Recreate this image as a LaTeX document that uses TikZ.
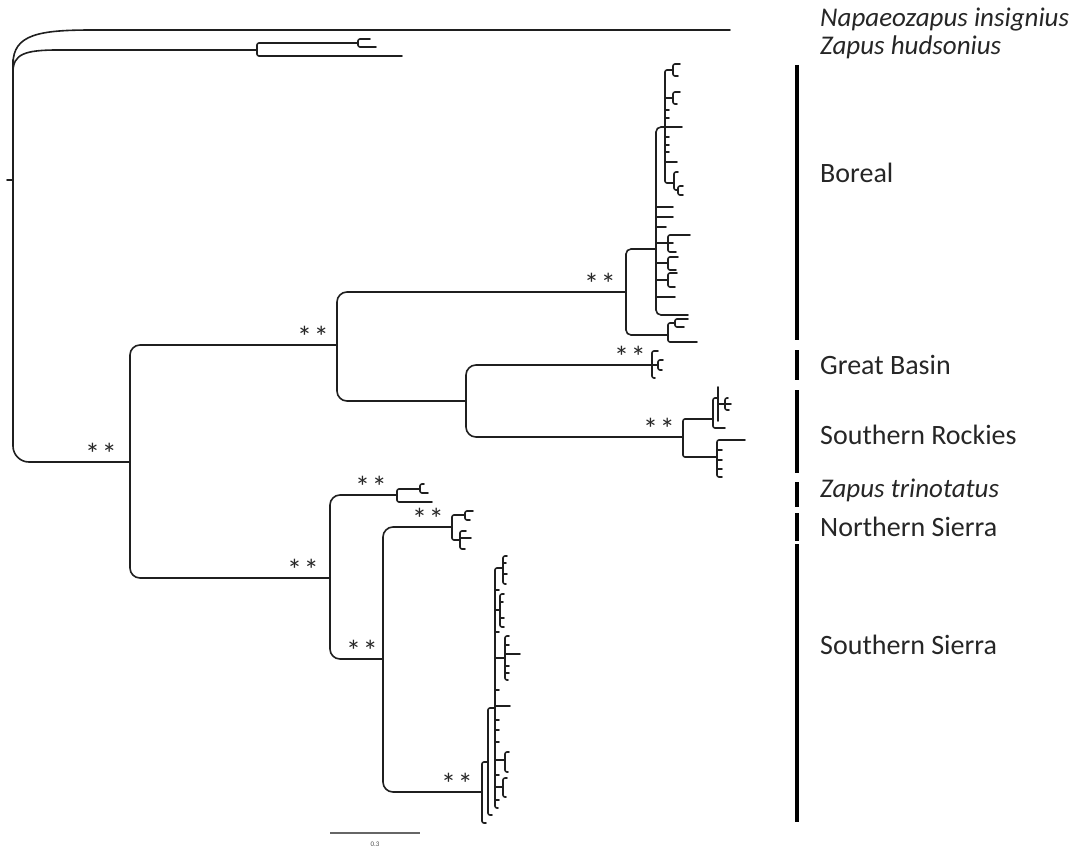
\documentclass[tikz,border=0pt]{standalone}
\usepackage{fontspec}
\setmainfont{Carlito}
\begin{document}
\begin{tikzpicture}[x=1pt,y=-1pt,
  tree/.style={line width=1.6pt, draw=black!88, rounded corners=2pt, line cap=round},
  bigtree/.style={tree, rounded corners=10pt},
  midtree/.style={tree, rounded corners=5pt},
  bar/.style={line width=4pt, draw=black},
  lab/.style={anchor=west, font=\fontsize{28}{30}\selectfont, text=black!85, inner sep=0pt},
  spec/.style={lab, font=\fontsize{27}{29}\selectfont\itshape},
  stars/.style={anchor=base, font=\fontsize{30}{32}\selectfont, inner sep=0pt, text=black!85}]
\useasboundingbox (0,0) rectangle (1091,850);

% ---------- named internal nodes ----------
\coordinate (R)    at (13,180);
\coordinate (NI)   at (730,30);
\coordinate (nH)   at (257,50);
\coordinate (hu1)  at (358,43);
\coordinate (hu2)  at (402,56);
\coordinate (nA)   at (130,462);
\coordinate (nB)   at (337,345);
\coordinate (nBor) at (626,292);
\coordinate (S1)   at (656,249);
\coordinate (S2)   at (665,127);
\coordinate (bo2)  at (668,335);
\coordinate (nC)   at (466,401);
\coordinate (nGB)  at (652,365);
\coordinate (nSR)  at (683,437);
\coordinate (sr1)  at (713,419);
\coordinate (sr2)  at (717,457);
\coordinate (nD)   at (330,578);
\coordinate (nZT)  at (397,495);
\coordinate (nE)   at (383,659);
\coordinate (nNS)  at (452,527);
\coordinate (nSS)  at (482,792);
\coordinate (ss1)  at (488,762);
\coordinate (ss2)  at (495,708);

% ---------- root and outgroups ----------
\draw[tree] (R) -- ++(-6,0);
\draw[tree] (13,64) .. controls (13,34) and (40,30) .. (95,30) -- (NI);
\draw[tree] (13,72) .. controls (13,54) and (25,50) .. (60,50) -- (nH);
\draw[tree, rounded corners=16pt] (13,60) -- (R) |- (nA);
\draw[tree] (hu1) -| (nH) |- (hu2);
\draw[tree] (370,39) -| (hu1) |- (376,47);

% ---------- major brackets ----------
\draw[bigtree] (nB) -| (nA) |- (nD);
\draw[bigtree] (nBor) -| (nB) |- (nC);
\draw[bigtree] (nGB) -| (nC) |- (nSR);
\draw[midtree] (S1) -| (nBor) |- (bo2);
\draw[bigtree] (nZT) -| (nD) |- (nE);
\draw[bigtree] (nNS) -| (nE) |- (nSS);

% ---------- Boreal ----------
\draw[midtree] (S2) -| (S1) |- (688,315);
\draw[tree] (673,70) -| (S2) |- (674,183);
\draw[tree] (S2) -- (682,127);
\draw[tree] (680,64) -| (673,70) |- (678,76);
\draw[tree] (665,98) -- (673,98);
\draw[tree] (680,92) -| (673,98) |- (677,104);
\foreach \y in {110,118,137,145,152} \draw[tree] (665,\y) -- (669,\y);
\draw[tree] (665,162) -- (677,162);
\draw[tree] (678,172) -| (674,183) |- (678,190);
\draw[tree] (683,186) -| (678,190) |- (683,195);
\draw[tree] (656,207) -- (673,207);
\draw[tree] (656,217) -- (673,217);
\draw[tree] (656,227) -- (666,227);
\draw[tree] (656,243) -- (668,243);
\draw[tree] (690,235) -| (668,243) |- (676,252);
\draw[tree] (668,243) -- (673,243);
\draw[tree] (656,263) -- (668,263);
\draw[tree] (678,257) -| (668,263) |- (676,270);
\draw[tree] (656,280) -- (668,280);
\draw[tree] (677,273) -| (668,280) |- (675,287);
\draw[tree] (656,297) -- (675,297);
\draw[tree] (675,323) -| (bo2) |- (697,342);
\draw[tree] (688,319) -| (675,323) |- (684,327);

% ---------- Great Basin ----------
\draw[tree] (658,351) -| (nGB) |- (655,378);
\draw[tree] (nGB) -- (658,365);
\draw[tree] (663,360) -| (658,365) |- (662,370);

% ---------- Southern Rockies ----------
\draw[tree] (sr1) -| (nSR) |- (sr2);
\draw[tree] (718,398) -| (sr1) |- (725,428);
\draw[tree] (718,387) -- (718,421);
\draw[tree] (718,404) -- (731,404);
\draw[tree] (728,398) -| (725,404) |- (729,410);
\draw[tree] (745,440) -| (sr2) |- (722,477);
\foreach \y in {450,460,469} \draw[tree] (717,\y) -- (722,\y);

% ---------- Zapus trinotatus ----------
\draw[tree] (420,489) -| (nZT) |- (432,502);
\draw[tree] (424,484) -| (420,489) |- (428,493);

% ---------- Northern Sierra ----------
\draw[tree] (465,515) -| (nNS) |- (460,540);
\draw[tree] (473,511) -| (465,515) |- (470,520);
\draw[tree] (466,531) -| (460,540) |- (465,549);
\draw[tree] (460,538) -- (471,538);

% ---------- Southern Sierra ----------
\draw[tree] (ss1) -| (nSS) |- (486,823);
\draw[tree] (ss2) -| (ss1) |- (492,815);
\draw[tree] (503,568) -| (ss2) |- (498,808);
\draw[tree] (507,556) -| (503,568) |- (506,584);
\draw[tree] (503,563) -- (506,563);
\draw[tree] (503,574) -- (507,574);
\draw[tree] (495,610) -- (500,610);
\draw[tree] (504,594) -| (500,610) |- (504,627);
\draw[tree] (500,602) -- (503,602);
\draw[tree] (500,618) -- (504,618);
\draw[tree] (495,658) -- (505,658);
\draw[tree] (509,636) -| (505,658) |- (508,680);
\draw[tree] (505,654) -- (520,654);
\foreach \y in {645,666,673} \draw[tree] (505,\y) -- (509,\y);
\draw[tree] (495,706) -- (510,706);
\draw[tree] (495,760) -- (505,760);
\draw[tree] (509,752) -| (505,760) |- (508,772);
\draw[tree] (495,787) -- (503,787);
\draw[tree] (507,778) -| (503,787) |- (506,797);
\foreach \y in {590,632,690,720,730,742,775,800} \draw[tree] (495,\y) -- (499,\y);

% ---------- support stars ----------
\node[stars] (st1)  at (101,464) {*\hspace{2pt}*};
\node[stars] (st2)  at (313,347) {*\hspace{2pt}*};
\node[stars] (st3)  at (600,294) {*\hspace{2pt}*};
\node[stars] (st4)  at (630,367) {*\hspace{2pt}*};
\node[stars] (st5)  at (659,439) {*\hspace{2pt}*};
\node[stars] (st6)  at (371,497) {*\hspace{2pt}*};
\node[stars] (st7)  at (428,529) {*\hspace{2pt}*};
\node[stars] (st8)  at (303,580) {*\hspace{2pt}*};
\node[stars] (st9)  at (362,661) {*\hspace{2pt}*};
\node[stars] (st10) at (457,794) {*\hspace{2pt}*};

% ---------- clade bars ----------
\draw[bar] (797,65) -- (797,340);
\draw[bar] (797,350) -- (797,380);
\draw[bar] (797,390) -- (797,473);
\draw[bar] (797,482) -- (797,507);
\draw[bar] (797,513) -- (797,541);
\draw[bar] (797,544) -- (797,822);

% ---------- labels ----------
\node[spec] (l1) at (820,20)  {Napaeozapus insignius};
\node[spec] (l2) at (820,47)  {Zapus hudsonius};
\node[lab]  (l3) at (820,173) {Boreal};
\node[lab]  (l4) at (820,365) {Great Basin};
\node[lab]  (l5) at (820,435) {Southern Rockies};
\node[spec] (l6) at (820,490) {Zapus trinotatus};
\node[lab]  (l7) at (820,527) {Northern Sierra};
\node[lab]  (l8) at (820,645) {Southern Sierra};

% ---------- scale bar ----------
\coordinate (sb1) at (330,833);
\coordinate (sb2) at (420,833);
\draw[line width=1.2pt, draw=black!60] (sb1) -- (sb2);
\node[font=\fontsize{7}{8}\selectfont, text=black!70, inner sep=0pt] (sbl) at (375,844) {0.3};
\end{tikzpicture}
\end{document}
